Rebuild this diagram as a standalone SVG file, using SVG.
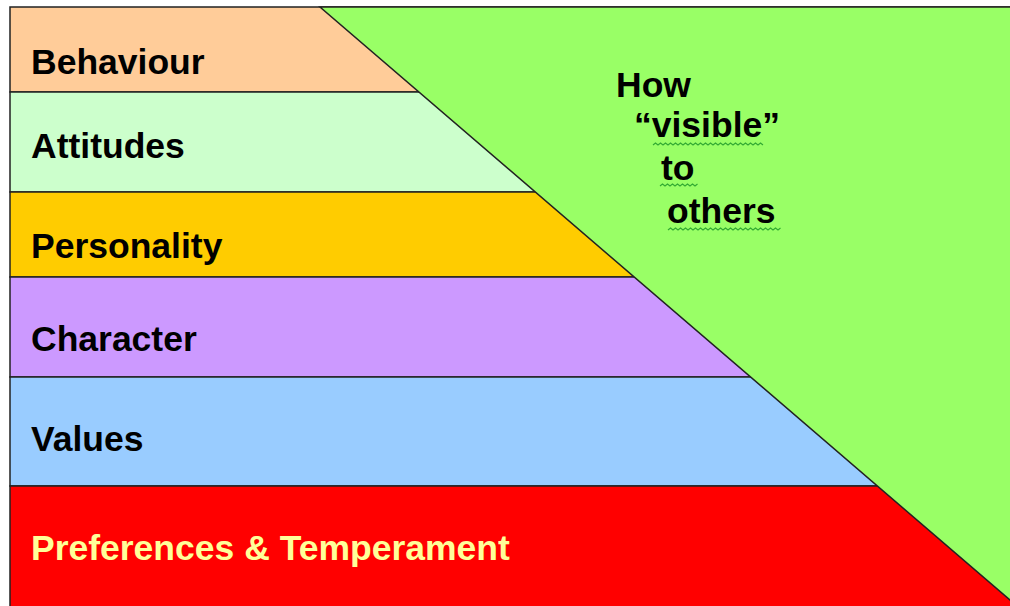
<svg xmlns="http://www.w3.org/2000/svg" width="1010" height="606" viewBox="0 0 1010 606">
<style>
.band{stroke:#222;stroke-width:1.5}
.lbl{font-family:"Liberation Sans",Arial,sans-serif;font-weight:bold;font-size:35.5px;fill:#000}
.yel{fill:#FFFF99}
.sq{fill:none;stroke:#33AA33;stroke-width:1.2}
</style>
<rect width="1010" height="606" fill="#fff"/>
<g id="behaviour"><rect class="band" x="10" y="7" width="1010" height="85" fill="#FFCC99"/><text class="lbl" x="31" y="74">Behaviour</text></g>
<g id="attitudes"><rect class="band" x="10" y="92" width="1010" height="100" fill="#CCFFCC"/><text class="lbl" x="31" y="158">Attitudes</text></g>
<g id="personality"><rect class="band" x="10" y="192" width="1010" height="85" fill="#FFCC00"/><text class="lbl" x="31" y="258">Personality</text></g>
<g id="character"><rect class="band" x="10" y="277" width="1010" height="100" fill="#CC99FF"/><text class="lbl" x="31" y="351">Character</text></g>
<g id="values"><rect class="band" x="10" y="377" width="1010" height="109" fill="#99CCFF"/><text class="lbl" x="31" y="451">Values</text></g>
<g id="preferences"><rect class="band" x="10" y="486" width="1010" height="130" fill="#FF0000"/><text class="lbl yel" x="31" y="560">Preferences &amp; Temperament</text></g>
<g id="visible">
<polygon points="320,7 1012,7 1012,601.7" fill="#99FF66" stroke="#222" stroke-width="1.5"/>
<text class="lbl" x="616" y="97">How</text>
<text class="lbl" x="634" y="137">“visible”</text>
<text class="lbl" x="661" y="180">to</text>
<text class="lbl" x="667" y="223">others</text>
<path class="sq" d="M653,145 l2.5,-2 l2.5,2 l2.5,-2 l2.5,2 l2.5,-2 l2.5,2 l2.5,-2 l2.5,2 l2.5,-2 l2.5,2 l2.5,-2 l2.5,2 l2.5,-2 l2.5,2 l2.5,-2 l2.5,2 l2.5,-2 l2.5,2 l2.5,-2 l2.5,2 l2.5,-2 l2.5,2 l2.5,-2 l2.5,2 l2.5,-2 l2.5,2 l2.5,-2 l2.5,2 l2.5,-2 l2.5,2 l2.5,-2 l2.5,2 l2.5,-2 l2.5,2 l2.5,-2 l2.5,2 l2.5,-2 l2.5,2 l2.5,-2 l2.5,2 l2.5,-2 l2.5,2 l2.5,-2 l2.5,2"/>
<path class="sq" d="M660,186 l2.5,-2 l2.5,2 l2.5,-2 l2.5,2 l2.5,-2 l2.5,2 l2.5,-2 l2.5,2 l2.5,-2 l2.5,2 l2.5,-2 l2.5,2 l2.5,-2 l2.5,2 l2.5,-2"/>
<path class="sq" d="M668,230 l2.5,-2 l2.5,2 l2.5,-2 l2.5,2 l2.5,-2 l2.5,2 l2.5,-2 l2.5,2 l2.5,-2 l2.5,2 l2.5,-2 l2.5,2 l2.5,-2 l2.5,2 l2.5,-2 l2.5,2 l2.5,-2 l2.5,2 l2.5,-2 l2.5,2 l2.5,-2 l2.5,2 l2.5,-2 l2.5,2 l2.5,-2 l2.5,2 l2.5,-2 l2.5,2 l2.5,-2 l2.5,2 l2.5,-2 l2.5,2 l2.5,-2 l2.5,2 l2.5,-2 l2.5,2 l2.5,-2 l2.5,2 l2.5,-2 l2.5,2 l2.5,-2 l2.5,2 l2.5,-2 l2.5,2 l2.5,-2"/>
</g>
</svg>
